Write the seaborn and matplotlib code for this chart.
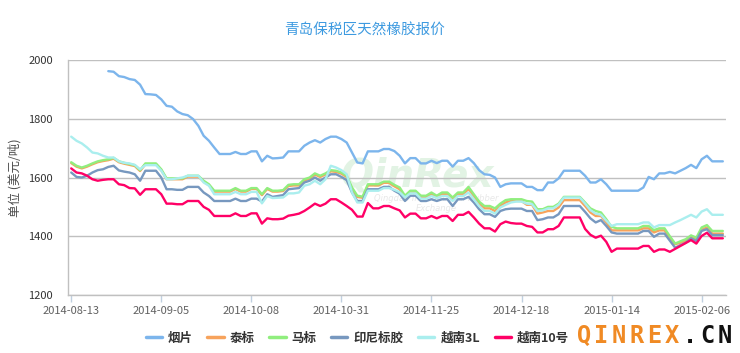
import numpy as np
import pandas as pd
import matplotlib
matplotlib.use('Agg')
import matplotlib.pyplot as plt
import seaborn as sns
from matplotlib.lines import Line2D

sns.set_style('white')
plt.rcParams['font.family'] = ['Noto Sans CJK SC', 'DejaVu Sans']

# Series names and colours
series_names = ['烟片', '泰标', '马标', '印尼标胶', '越南3L', '越南10号']
series_colors = ['#7cb5ec', '#f7a35c', '#90ee7e', '#7798bf', '#aaeeee', '#ff0066']

# x axis: trading days, one label every 17 points
tick_labels = ['2014-08-13', '2014-09-05', '2014-10-08', '2014-10-31',
               '2014-11-25', '2014-12-18', '2015-01-14', '2015-02-06']
tick_step = 17

nan = np.nan
yanpian = [nan, nan, nan, nan, nan, nan, nan,
           1962, 1960, 1945, 1942, 1935, 1932, 1916, 1884, 1883, 1881,
           1866, 1844, 1841, 1825, 1816, 1812, 1799, 1776, 1742, 1725,
           1702, 1680, 1680, 1680, 1687, 1680, 1680, 1689, 1689, 1655,
           1674, 1665, 1666, 1668, 1689, 1689, 1689, 1708, 1719, 1727,
           1719, 1731, 1739, 1739, 1731, 1719, 1685, 1651, 1648, 1689,
           1689, 1689, 1697, 1697, 1690, 1674, 1648, 1666, 1666, 1648,
           1648, 1657, 1649, 1657, 1657, 1637, 1657, 1657, 1666, 1649,
           1625, 1611, 1609, 1600, 1568, 1577, 1580, 1580, 1580, 1568,
           1568, 1557, 1557, 1583, 1583, 1597, 1623, 1623, 1623, 1623,
           1606, 1583, 1583, 1594, 1577, 1555, 1555, 1555, 1555, 1555,
           1555, 1566, 1602, 1594, 1614, 1614, 1619, 1614, 1623, 1632,
           1643, 1632, 1662, 1674, 1655, 1655, 1655]

taibiao = [1649, 1637, 1631, 1637, 1645, 1652, 1656, 1659, 1664, 1652,
           1647, 1643, 1639, 1622, 1645, 1645, 1645, 1625, 1594, 1594,
           1594, 1594, 1603, 1603, 1603, 1586, 1574, 1552, 1552, 1552,
           1552, 1561, 1552, 1552, 1561, 1561, 1540, 1561, 1552, 1552,
           1554, 1571, 1573, 1573, 1590, 1596, 1610, 1602, 1610, 1621,
           1619, 1613, 1602, 1562, 1534, 1531, 1573, 1573, 1573, 1582,
           1582, 1570, 1560, 1532, 1549, 1549, 1532, 1532, 1543, 1532,
           1543, 1543, 1526, 1543, 1543, 1561, 1536, 1511, 1495, 1495,
           1486, 1503, 1515, 1520, 1520, 1520, 1507, 1507, 1477, 1481,
           1486, 1486, 1498, 1523, 1523, 1523, 1523, 1503, 1481, 1469,
           1469, 1447, 1420, 1420, 1420, 1420, 1420, 1420, 1427, 1427,
           1413, 1420, 1420, 1395, 1373, 1378, 1384, 1398, 1390, 1422,
           1430, 1409, 1409, 1409]

mabiao = [1652, 1640, 1634, 1640, 1648, 1655, 1659, 1662, 1667, 1655,
          1650, 1646, 1642, 1625, 1648, 1648, 1648, 1628, 1597, 1597,
          1597, 1597, 1606, 1606, 1606, 1589, 1577, 1555, 1555, 1555,
          1555, 1564, 1555, 1555, 1564, 1564, 1543, 1564, 1555, 1555,
          1557, 1575, 1577, 1577, 1594, 1600, 1614, 1606, 1614, 1625,
          1623, 1617, 1606, 1566, 1538, 1535, 1577, 1577, 1577, 1586,
          1586, 1575, 1566, 1538, 1555, 1555, 1538, 1538, 1549, 1538,
          1549, 1549, 1532, 1549, 1549, 1568, 1543, 1518, 1503, 1503,
          1495, 1511, 1523, 1526, 1526, 1526, 1520, 1518, 1492, 1492,
          1500, 1500, 1511, 1534, 1534, 1534, 1534, 1515, 1495, 1486,
          1481, 1458, 1432, 1427, 1427, 1427, 1427, 1427, 1435, 1435,
          1421, 1427, 1427, 1400, 1375, 1383, 1390, 1403, 1395, 1430,
          1438, 1418, 1418, 1418]

yinni = [1617, 1602, 1600, 1606, 1617, 1625, 1628, 1636, 1640, 1624,
         1620, 1617, 1611, 1589, 1623, 1623, 1623, 1600, 1560, 1560,
         1558, 1558, 1568, 1568, 1568, 1549, 1537, 1520, 1520, 1520,
         1520, 1528, 1520, 1520, 1528, 1528, 1518, 1543, 1534, 1537,
         1540, 1560, 1562, 1564, 1583, 1589, 1600, 1589, 1600, 1611,
         1611, 1602, 1591, 1549, 1520, 1520, 1560, 1560, 1560, 1568,
         1568, 1555, 1545, 1520, 1538, 1538, 1520, 1520, 1526, 1520,
         1526, 1526, 1503, 1526, 1526, 1534, 1515, 1492, 1475, 1475,
         1466, 1486, 1492, 1494, 1494, 1494, 1486, 1486, 1455, 1458,
         1464, 1464, 1475, 1503, 1503, 1503, 1503, 1483, 1461, 1447,
         1455, 1435, 1413, 1409, 1409, 1409, 1409, 1409, 1418, 1418,
         1398, 1409, 1409, 1385, 1361, 1370, 1378, 1393, 1384, 1418,
         1424, 1404, 1404, 1404]

vn3l = [1739, 1725, 1716, 1702, 1685, 1682, 1674, 1668, 1668, 1655,
        1650, 1648, 1643, 1628, 1642, 1642, 1642, 1623, 1594, 1594,
        1597, 1600, 1606, 1606, 1606, 1583, 1572, 1543, 1543, 1543,
        1543, 1551, 1543, 1543, 1551, 1551, 1512, 1537, 1530, 1531,
        1532, 1546, 1546, 1549, 1572, 1577, 1589, 1577, 1594, 1640,
        1634, 1625, 1611, 1549, 1515, 1515, 1555, 1555, 1555, 1564,
        1564, 1558, 1550, 1532, 1546, 1546, 1528, 1528, 1537, 1530,
        1537, 1537, 1520, 1537, 1537, 1549, 1526, 1503, 1486, 1486,
        1477, 1498, 1507, 1515, 1518, 1518, 1511, 1509, 1486, 1488,
        1495, 1495, 1507, 1532, 1532, 1532, 1532, 1511, 1489, 1477,
        1473, 1453, 1435, 1441, 1441, 1441, 1441, 1441, 1447, 1447,
        1430, 1438, 1438, 1438, 1447, 1455, 1464, 1473, 1464, 1484,
        1492, 1473, 1473, 1473]

vn10 = [1631, 1617, 1614, 1606, 1594, 1589, 1592, 1594, 1594, 1577,
        1574, 1564, 1563, 1541, 1560, 1560, 1560, 1543, 1511, 1511,
        1509, 1509, 1520, 1520, 1520, 1500, 1490, 1469, 1469, 1469,
        1469, 1478, 1469, 1469, 1478, 1478, 1443, 1461, 1458, 1458,
        1460, 1470, 1473, 1477, 1486, 1498, 1511, 1503, 1511, 1526,
        1526, 1515, 1503, 1490, 1467, 1467, 1513, 1495, 1495, 1503,
        1503, 1495, 1488, 1464, 1477, 1477, 1461, 1461, 1469, 1461,
        1469, 1469, 1452, 1473, 1473, 1483, 1464, 1443, 1427, 1427,
        1416, 1441, 1450, 1445, 1443, 1443, 1435, 1432, 1413, 1413,
        1424, 1424, 1435, 1464, 1464, 1464, 1464, 1425, 1405, 1395,
        1402, 1381, 1347, 1358, 1358, 1358, 1358, 1358, 1367, 1367,
        1347, 1355, 1355, 1347, 1357, 1367, 1377, 1387, 1375, 1401,
        1412, 1393, 1393, 1393]

all_values = [yanpian, taibiao, mabiao, yinni, vn3l, vn10]

frames = []
for name, vals in zip(series_names, all_values):
    frames.append(pd.DataFrame({'idx': np.arange(len(vals)), 'price': vals, 'series': name}))
df = pd.concat(frames, ignore_index=True)
n_points = len(mabiao)

fig = plt.figure(figsize=(7.4, 3.53), dpi=100)
ax = fig.add_axes([68.3 / 740, 58 / 353, (726 - 68.3) / 740, 235 / 353])

# faint watermark behind the lines
ax.text(0.53, 0.51, 'QinRex', transform=ax.transAxes, fontsize=28, fontweight='bold',
        style='italic', color='#e2f3e4', ha='center', va='center', zorder=0,
        family=['DejaVu Sans'])
ax.text(0.56, 0.39, 'Qingdao International Rubber\nExchange', transform=ax.transAxes,
        fontsize=6, color='#e8e8e8', ha='center', va='center', zorder=0, style='italic',
        family=['DejaVu Sans'])

sns.lineplot(data=df, x='idx', y='price', hue='series', hue_order=series_names,
             palette=dict(zip(series_names, series_colors)), estimator=None,
             linewidth=1.7, legend=False, ax=ax, zorder=3)

ax.set_xlim(-0.55, n_points - 0.4)
ax.set_ylim(1200, 2000)
ax.set_yticks(range(1200, 2001, 200))
ax.set_xticks(np.arange(len(tick_labels)) * tick_step)
ax.set_xticklabels(tick_labels)
ax.set_xlabel('')
ax.set_ylabel('')

ax.yaxis.grid(True, color='#c0c0c0', linewidth=1)
ax.xaxis.grid(False)
for side in ['top', 'right']:
    ax.spines[side].set_visible(False)
ax.spines['left'].set_color('#c0c0c0')
ax.spines['bottom'].set_color('#c0c0c0')
ax.spines['left'].set_linewidth(1)
ax.spines['bottom'].set_linewidth(1)

ax.tick_params(axis='x', length=5, width=1, color='#c0d0e0', labelsize=8,
               labelcolor='#606060', pad=3, direction='out', bottom=True)
ax.tick_params(axis='y', length=0, labelsize=8, labelcolor='#333333', pad=11)

fig.text(0.493, 1 - 31 / 353, '青岛保税区天然橡胶报价', ha='center', va='center',
         fontsize=10.5, color='#3d9ae0')
fig.text(15 / 740, 1 - 178 / 353, '单位 (美元/吨)', rotation=90, ha='center', va='center',
         fontsize=9, color='#4d4d4d')

handles = [Line2D([0], [0], color=c, lw=2.5) for c in series_colors]
fig.legend(handles, series_names, loc='center', bbox_to_anchor=(0.483, 1 - 338 / 353),
           ncol=6, frameon=False, handlelength=1.3, handletextpad=0.5, columnspacing=1.15,
           prop={'size': 9, 'weight': 'bold'}, labelcolor='#333333')

# QINREX.CN stamp bottom right
stamp = 'QINREX.CN'
for k, ch in enumerate(stamp):
    fig.text((584 + k * 17.6) / 740, 1 - 336 / 353, ch, ha='center', va='center',
             fontsize=17, fontweight='bold', color='#f08a24' if k < 6 else '#111111',
             family=['DejaVu Sans Mono'])

fig.savefig('out.png', dpi=100)
